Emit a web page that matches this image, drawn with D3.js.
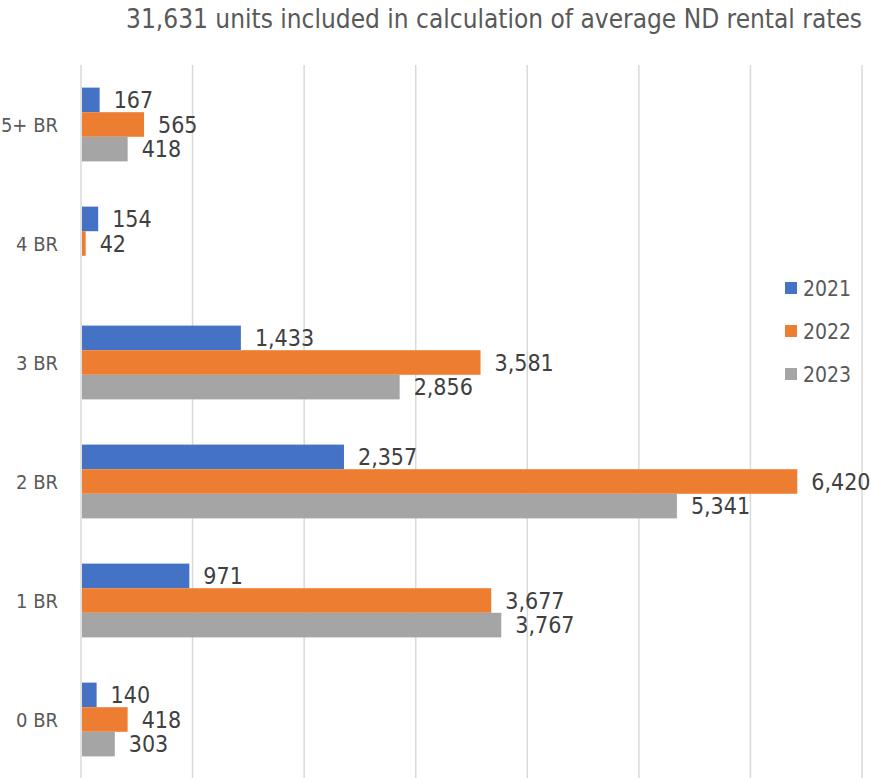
<!DOCTYPE html>
<meta charset="utf-8">
<html>
  <head>
    <style>
      body { margin: 0; background: #fff; }
      text { font-family: "Liberation Sans Narrow", "DejaVu Sans Condensed", sans-serif; }
      .title { font-size: 26px; fill: #595959; }
      .cat { font-size: 20px; fill: #595959; }
      .val { font-size: 23px; fill: #404040; }
      .leg { font-size: 21px; fill: #595959; }
      .grid line { stroke: #d9d9d9; stroke-width: 1.5px; }
    </style>
    <script src="https://cdn.jsdelivr.net/npm/d3@7"></script>
  </head>
  <body>
    <div id="chart"></div>
    <script>
      // data
      var categories = ["5+ BR", "4 BR", "3 BR", "2 BR", "1 BR", "0 BR"];
      var years = ["2021", "2022", "2023"];
      var v2021 = [167, 154, 1433, 2357, 971, 140];
      var v2022 = [565, 42, 3581, 6420, 3677, 418];
      var v2023 = [418, 0, 2856, 5341, 3767, 303];
      var xTicks = [0, 1000, 2000, 3000, 4000, 5000, 6000, 7000];
      var colors = ["#4472c4", "#ed7d31", "#a5a5a5"];
      var title = "31,631 units included in calculation of average ND rental rates";

      (function() {
        var series = [v2021, v2022, v2023];
        var W = 871, H = 778;
        var mLeft = 81, mRight = 862, mTop = 65, mBottom = 779;

        var svg = d3.select("#chart").append("svg")
            .attr("width", W).attr("height", H);

        var x = d3.scaleLinear().domain([0, 7000]).range([mLeft, mRight]);
        var y = d3.scaleBand().domain(categories).range([mTop, mBottom]).paddingInner(0.38).paddingOuter(0.19);
        var ySub = d3.scaleBand().domain(years).range([0, y.bandwidth()]);

        // title
        svg.append("text").attr("class", "title")
            .attr("x", 862).attr("y", 28).attr("text-anchor", "end")
            .text(title);

        // gridlines
        svg.append("g").attr("class", "grid")
          .selectAll("line").data(xTicks).enter().append("line")
            .attr("x1", function(d) { return x(d); })
            .attr("x2", function(d) { return x(d); })
            .attr("y1", mTop).attr("y2", H);

        // bars
        var rows = [];
        categories.forEach(function(c, i) {
          years.forEach(function(yr, j) {
            rows.push({ cat: c, year: yr, s: j, v: series[j][i] });
          });
        });
        rows = rows.filter(function(d) { return d.v > 0; });

        var g = svg.append("g");
        g.selectAll("rect").data(rows).enter().append("rect")
            .attr("x", x(0) + 1)
            .attr("y", function(d) { return y(d.cat) + ySub(d.year); })
            .attr("width", function(d) { return x(d.v) - x(0) - 1; })
            .attr("height", ySub.bandwidth())
            .attr("fill", function(d) { return colors[d.s]; });

        g.selectAll("text").data(rows).enter().append("text")
            .attr("class", "val")
            .attr("x", function(d) { return x(d.v) + 14; })
            .attr("y", function(d) { return y(d.cat) + ySub(d.year) + ySub.bandwidth() / 2; })
            .attr("dy", "0.36em")
            .text(function(d) { return d3.format(",")(d.v); });

        // category labels
        svg.append("g").selectAll("text").data(categories).enter().append("text")
            .attr("class", "cat")
            .attr("x", 58)
            .attr("y", function(d) { return y(d) + y.bandwidth() / 2; })
            .attr("dy", "0.36em")
            .attr("text-anchor", "end")
            .text(function(d) { return d; });

        // legend
        var legend = svg.append("g").selectAll("g").data(years).enter().append("g")
            .attr("transform", function(d, i) { return "translate(785," + (288 + i * 43) + ")"; });
        legend.append("rect").attr("x", 0).attr("y", -6).attr("width", 12).attr("height", 12)
            .attr("fill", function(d, i) { return colors[i]; });
        legend.append("text").attr("class", "leg")
            .attr("x", 18).attr("y", 0).attr("dy", "0.36em")
            .text(function(d) { return d; });
      })();
    </script>
  </body>
</html>
